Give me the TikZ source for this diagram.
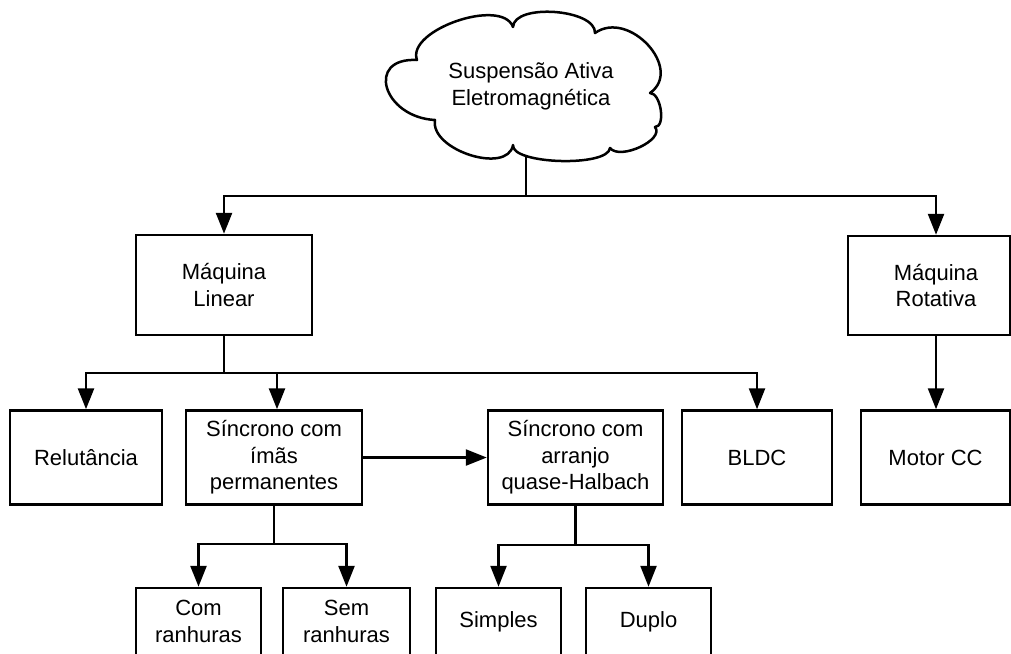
\documentclass[tikz,border=0pt]{standalone}
\usepackage{fontspec}
\setmainfont{Liberation Sans}
\usetikzlibrary{arrows.meta}

\begin{document}
\begin{tikzpicture}[x=1pt, y=-1pt,
  box/.style={draw=black, line width=2.5pt, fill=white, align=center, inner sep=0pt,
              font=\fontsize{22}{26.4}\selectfont, minimum height=94pt},
  txt/.style={align=center, inner sep=0pt, font=\fontsize{22}{26.4}\selectfont},
  conn/.style={line width=2.5pt, -{Triangle[length=21pt,width=16pt]}},
  cloudline/.style={draw=black, line width=2.5pt, line join=round, fill=white}]
\useasboundingbox (0,0) rectangle (1011,653);
\clip (0,0) rectangle (1011,653);
\fill[white] (0,0) rectangle (1011,653);

% cloud outline, lobe by lobe
\path[cloudline] (417,60)
  .. controls (365,57.3) and (383,117.3) .. (435,120)
  .. controls (429.7,150) and (507.7,175) .. (513,145)
  .. controls (511,164.3) and (608,167.3) .. (610,148)
  .. controls (620,160.7) and (665,139.7) .. (655,127)
  .. controls (666,127) and (661,93) .. (650,93)
  .. controls (684,69) and (629,9) .. (595,33)
  .. controls (596,9) and (514,3) .. (513,27)
  .. controls (502,-3) and (406,30) .. (417,60) -- cycle;
\node[txt] (sus) at (531,86.5) {Suspensão Ativa\\Eletromagnética};
\coordinate (cb) at (526,156);

% first level
\node[box, minimum width=176pt, minimum height=100pt] (lin) at (224,285) {Máquina\\Linear};
\node[box, minimum width=162pt, minimum height=99pt] (rot) at (929,285.5) {};
\node[txt] (rotl) at (936,285.5) {Máquina\\Rotativa};

% second level
\node[box, minimum width=152pt] (rel)  at (86,457.5)    {Relutância};
\node[box, minimum width=176pt] (pm)   at (274,457.5)   {Síncrono com\\ímãs\\permanentes};
\node[box, minimum width=175pt] (hal)  at (575.5,457.5) {Síncrono com\\arranjo\\quase-Halbach};
\node[box, minimum width=150pt] (bldc) at (757,457.5)   {BLDC};
\node[box, minimum width=149pt] (mcc)  at (935.5,457.5) {Motor CC};

% third level
\node[box, minimum width=125pt, minimum height=67pt] (com) at (198.5,621.5) {Com\\ranhuras};
\node[box, minimum width=127pt, minimum height=67pt] (sem) at (346.5,621.5) {Sem\\ranhuras};
\node[box, minimum width=125pt, minimum height=67pt] (sim) at (498.5,621.5) {Simples};
\node[box, minimum width=125pt, minimum height=67pt] (dup) at (648.5,621.5) {Duplo};

% bus junctions
\coordinate (bus1) at (526,196);
\coordinate (bus2) at (224,373);
\coordinate (bus3) at (274,544);
\coordinate (bus4) at (575.5,545);

% connectors
\draw[conn] (cb) -- (bus1) -| (lin.north);
\draw[conn] (cb) -- (bus1) -| (rotl |- rot.north);

\draw[conn] (lin.south) -- (bus2) -| (rel.north);
\draw[conn] (lin.south) -- (bus2) -| ([xshift=3pt]pm.north);
\draw[conn] (lin.south) -- (bus2) -| (bldc.north);

\draw[conn] (rotl |- rot.south) -- (rotl |- mcc.north);

\draw[conn] (pm.east) -- (hal.west);

\draw[conn] (pm.south) -- (bus3) -| (com.north);
\draw[conn] (pm.south) -- (bus3) -| (sem.north);

\draw[conn] (hal.south) -- (bus4) -| (sim.north);
\draw[conn] (hal.south) -- (bus4) -| (dup.north);
\end{tikzpicture}
\end{document}
